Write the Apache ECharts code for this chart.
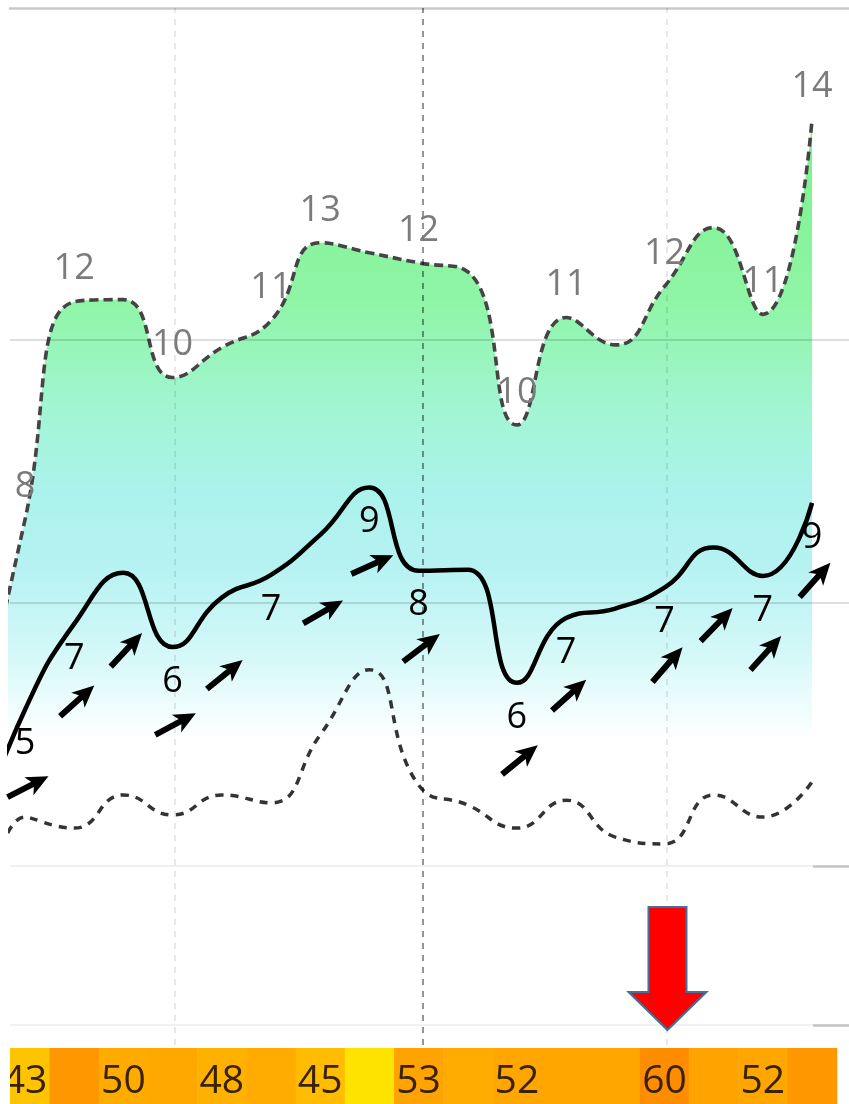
<!DOCTYPE html>
<html><head><meta charset="utf-8">
<script src="https://cdn.jsdelivr.net/npm/echarts@6/dist/echarts.min.js"></script>
<style>html,body{margin:0;padding:0;background:#fff}#c{width:849px;height:1104px}</style>
</head><body><div id="c"></div>
<script>
// time steps (step -1 is the partly visible leading point)
const steps = [-1, 0, 1, 2, 3, 4, 5, 6, 7, 8, 9, 10, 11, 12, 13, 14, 15, 16];
// gust (upper dashed, filled)
const gust = [2.3, 6.58, 10.72, 10.76, 9.28, 9.85, 10.36, 11.84, 11.65, 11.46, 11.29, 8.38, 10.42, 9.90, 11.01, 12.13, 10.48, 14.18];
// mean wind (solid black)
const wind = [0.59, 2.97, 4.60, 5.57, 4.16, 5.10, 5.53, 6.29, 7.19, 5.61, 5.63, 3.48, 4.71, 4.89, 5.29, 6.05, 5.51, 6.90];
// lower dashed line
const low = [-3.3, 0.93, 0.72, 1.35, 0.97, 1.35, 1.20, 2.49, 3.73, 1.54, 1.16, 0.72, 1.25, 0.55, 0.42, 1.35, 0.93, 1.60];
// labels for steps 0..16
const gustLabels = ['8', '12', '', '10', '', '11', '13', '', '12', '', '10', '11', '', '12', '', '11', '14'];
const windLabels = ['5', '7', '', '6', '', '7', '', '9', '8', '', '6', '7', '', '7', '', '7', '9'];
// direction the arrows point to (compass bearing, degrees), steps 0..16
const arrowBearing = [63, 48, 43, 62, 51, null, 60, 66, 53, null, 51, 48, null, 41, 44, 42, 42];
// bottom band values, steps 0..16
const bandValues = [43, 57, 50, 51, 48, 50, 45, 38, 53, 50, 52, 52, 52, 60, 53, 52, 57];
const bandShow = [1, 0, 1, 0, 1, 0, 1, 0, 1, 0, 1, 0, 0, 1, 0, 1, 0];
// day separators (vertical dashed lines), in steps
const separators = [3.05, 8.09, 13.05];

const FONT = '"Open Sans", "Noto Sans", sans-serif';
const chart = echarts.init(document.getElementById('c'));

const gustData = steps.map((s, k) => [s, gust[k]]);
const windData = steps.map((s, k) => [s, wind[k]]);
const lowData = steps.map((s, k) => [s, low[k]]);
const gustLabelData = [], windLabelData = [], arrowData = [];
for (let s = 0; s < gustLabels.length; s++) {
  if (gustLabels[s]) gustLabelData.push([s, gust[s + 1], gustLabels[s]]);
  if (windLabels[s]) windLabelData.push([s, wind[s + 1], windLabels[s]]);
  if (arrowBearing[s] !== null) arrowData.push({ value: [s, wind[s + 1]], symbolRotate: 90 - arrowBearing[s] });
}
const bandData = bandValues.map((v, s) => [s, v]);

const lightDash = { color: 'rgba(0,0,0,0.12)', width: 1.5, type: [6, 6] };
const option = {
  animation: false,
  grid: [
    { left: 10, right: 0, top: 8, bottom: 59 },
    { left: 10, right: 0, top: 1048, bottom: 0 }
  ],
  xAxis: [
    { type: 'value', gridIndex: 0, min: -0.305, max: 16.751, position: 'top',
      axisLine: { show: true, onZero: false, lineStyle: { color: '#c9c9c9', width: 2.5 } },
      axisTick: { show: false }, axisLabel: { show: false }, splitLine: { show: false } },
    { type: 'value', gridIndex: 1, min: -0.305, max: 16.751, show: false, splitLine: { show: false } }
  ],
  yAxis: [
    { type: 'value', gridIndex: 0, min: -3.4, max: 16.3, show: false, splitLine: { show: false } },
    { type: 'value', gridIndex: 1, min: 0, max: 1, show: false, splitLine: { show: false } }
  ],
  visualMap: {
    show: false, type: 'continuous', seriesIndex: 6, dimension: 1, min: 38, max: 60,
    inRange: { color: ['#FFE300', '#FFC100', '#FFAE00', '#FF9F00', '#FF8D00'] }
  },
  series: [
    {
      type: 'line', data: gustData, smooth: 0.5, symbol: 'none', z: 2,
      lineStyle: { color: '#444', width: 3.6, type: [9, 5] },
      areaStyle: {
        color: { type: 'linear', x: 0, y: 120, x2: 0, y2: 740, global: true,
          colorStops: [
            { offset: 0, color: '#7CF08C' },
            { offset: 0.29, color: '#8FF5A6' },
            { offset: 0.48, color: '#A3F5D6' },
            { offset: 0.6, color: '#ABF2EC' },
            { offset: 0.72, color: '#B6F2F2' },
            { offset: 0.86, color: '#D4F8F8' },
            { offset: 1, color: '#FFFFFF' }
          ] }, opacity: 1
      },
      markLine: {
        silent: true, symbol: ['none', 'none'], label: { show: false },
        data: [
          { yAxis: 10, lineStyle: { color: 'rgba(0,0,0,0.17)', width: 1.5, type: 'solid' } },
          { yAxis: 5, lineStyle: { color: 'rgba(0,0,0,0.17)', width: 1.5, type: 'solid' } },
          { yAxis: 0, lineStyle: { color: '#f1f1f1', width: 2, type: 'solid' } },
          { yAxis: -3.02, lineStyle: { color: '#f1f1f1', width: 2, type: 'solid' } },
          [{ coord: [16.02, 0], lineStyle: { color: '#c4c4c4', width: 2.5, type: 'solid' } }, { coord: [16.751, 0] }],
          [{ coord: [16.02, -3.02], lineStyle: { color: '#c4c4c4', width: 2.5, type: 'solid' } }, { coord: [16.751, -3.02] }],
          { xAxis: separators[0], lineStyle: lightDash },
          { xAxis: separators[1], lineStyle: { color: 'rgba(0,0,0,0.42)', width: 2, type: [6, 6] } },
          { xAxis: separators[2], lineStyle: lightDash }
        ]
      }
    },
    {
      type: 'line', data: lowData, smooth: 0.5, symbol: 'none', z: 3,
      lineStyle: { color: '#333', width: 3.5, type: [8, 7] }
    },
    {
      type: 'line', data: windData, smooth: 0.5, symbol: 'none', z: 4,
      lineStyle: { color: '#000', width: 4.5 }
    },
    {
      type: 'scatter', data: gustLabelData, symbolSize: 1, silent: true, z: 5,
      itemStyle: { color: 'rgba(0,0,0,0)', opacity: 1 },
      label: { show: true, position: 'top', distance: 14, formatter: p => p.value[2],
        color: '#7b7b7b', fontSize: 36, fontFamily: FONT }
    },
    {
      type: 'scatter', data: windLabelData, symbolSize: 1, silent: true, z: 5,
      itemStyle: { color: 'rgba(0,0,0,0)', opacity: 1 },
      label: { show: true, position: 'bottom', distance: 16, formatter: p => p.value[2],
        color: '#000', fontSize: 36, fontFamily: FONT }
    },
    {
      type: 'scatter', data: arrowData, silent: true, z: 6,
      symbol: 'path://M0,7 L28,7 L24,0 L46,10 L24,20 L28,13 L0,13 Z',
      symbolSize: [46, 20], symbolOffset: [3, 77], symbolKeepAspect: false,
      itemStyle: { color: '#000', opacity: 1 }
    },
    {
      type: 'custom', xAxisIndex: 1, yAxisIndex: 1, data: bandData, clip: true, silent: true,
      renderItem: function (params, api) {
        const s = api.value(0), v = api.value(1);
        const a = api.coord([s - 0.5, 1]), b = api.coord([s + 0.5, 0]);
        const children = [{ type: 'rect',
          shape: { x: a[0], y: a[1], width: b[0] - a[0] + 0.6, height: b[1] - a[1] },
          style: { fill: api.visual('color') } }];
        if (bandShow[params.dataIndex]) {
          children.push({ type: 'text', x: (a[0] + b[0]) / 2, y: (a[1] + b[1]) / 2 + 6,
            style: { text: String(v), fill: '#3a2200', font: '39px ' + FONT, align: 'center', verticalAlign: 'middle' } });
        }
        return { type: 'group', children: children };
      }
    }
  ]
};
chart.setOption(option);

// red alert arrow above the band's highest value
const alertStep = bandValues.indexOf(Math.max.apply(null, bandValues));
const cx = chart.convertToPixel({ xAxisIndex: 0 }, alertStep) + 3;
const bandTop = chart.convertToPixel({ yAxisIndex: 1 }, 1);
const yTip = bandTop - 18, yHead = bandTop - 56, yTop = bandTop - 141;
chart.setOption({
  graphic: [{
    type: 'polygon', z: 100, silent: true,
    shape: { points: [[cx - 19, yTop], [cx + 19, yTop], [cx + 19, yHead], [cx + 39, yHead], [cx, yTip], [cx - 39, yHead], [cx - 19, yHead]] },
    style: { fill: '#FF0000', stroke: '#41719C', lineWidth: 2 }
  }]
});
</script></body></html>
